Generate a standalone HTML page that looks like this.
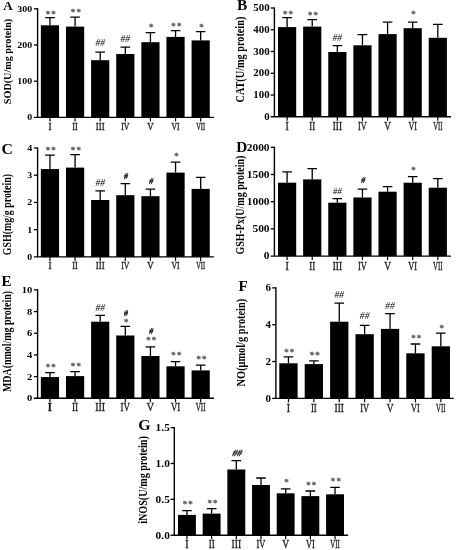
<!DOCTYPE html>
<html lang="en"><head><meta charset="utf-8"><title>Figure</title>
<style>
html,body{margin:0;padding:0;background:#fff}
body{width:456px;height:550px;overflow:hidden}
svg{display:block}
text{font-family:"Liberation Serif","Times New Roman",serif;fill:#000}
.tk{font-weight:bold;text-anchor:end}
.yl{font-weight:bold;text-anchor:middle}
.pl{font-weight:bold}
.xl{text-anchor:middle;fill:#1a1a1a;stroke:#1a1a1a;stroke-width:0.32px}
.st{font-size:9px;text-anchor:middle;fill:#606060;font-weight:bold;stroke:#606060;stroke-width:0.3px;letter-spacing:1.1px}
.hs1{text-anchor:middle;fill:#000;stroke:#000;stroke-width:0.25px}
.hs{text-anchor:middle;fill:#000;font-style:italic}
</style></head><body>
<svg width="456" height="550" viewBox="0 0 456 550">
<defs><filter id="soft" x="0" y="0" width="456" height="550" filterUnits="userSpaceOnUse"><feGaussianBlur stdDeviation="0.35"/></filter></defs>
<rect width="456" height="550" fill="#fff"/>
<g filter="url(#soft)">
<g class="panel">
<rect x="40.85" y="25.30" width="18.20" height="92.10" fill="#000"/>
<path d="M49.95 25.30V17.60M45.15 17.60H54.75" stroke="#000" stroke-width="1.3" fill="none"/>
<text class="st" x="51.35" y="16.50">**</text>
<path d="M49.95 117.40v4.0" stroke="#000" stroke-width="1.2"/>
<text class="xl" font-size="11" transform="translate(49.95 129.50) scale(0.850 1)">I</text>
<rect x="65.97" y="26.60" width="18.20" height="90.80" fill="#000"/>
<path d="M75.07 26.60V17.10M70.27 17.10H79.87" stroke="#000" stroke-width="1.3" fill="none"/>
<text class="st" x="76.47" y="15.40">**</text>
<path d="M75.07 117.40v4.0" stroke="#000" stroke-width="1.2"/>
<text class="xl" font-size="11" transform="translate(75.07 129.50) scale(0.750 1)">II</text>
<rect x="91.09" y="60.20" width="18.20" height="57.20" fill="#000"/>
<path d="M100.19 60.20V52.20M95.39 52.20H104.99" stroke="#000" stroke-width="1.3" fill="none"/>
<text class="hs" font-size="9.6" x="100.19" y="46.37">##</text>
<path d="M100.19 117.40v4.0" stroke="#000" stroke-width="1.2"/>
<text class="xl" font-size="11" transform="translate(100.19 129.50) scale(0.800 1)">III</text>
<rect x="116.21" y="54.00" width="18.20" height="63.40" fill="#000"/>
<path d="M125.31 54.00V47.20M120.51 47.20H130.11" stroke="#000" stroke-width="1.3" fill="none"/>
<text class="hs" font-size="9.6" x="125.31" y="42.47">##</text>
<path d="M125.31 117.40v4.0" stroke="#000" stroke-width="1.2"/>
<text class="xl" font-size="11" transform="translate(125.31 129.50) scale(0.710 1)">IV</text>
<rect x="141.33" y="42.20" width="18.20" height="75.20" fill="#000"/>
<path d="M150.43 42.20V32.60M145.63 32.60H155.23" stroke="#000" stroke-width="1.3" fill="none"/>
<text class="st" x="151.83" y="30.20">*</text>
<path d="M150.43 117.40v4.0" stroke="#000" stroke-width="1.2"/>
<text class="xl" font-size="11" transform="translate(150.43 129.50) scale(0.800 1)">V</text>
<rect x="166.45" y="36.90" width="18.20" height="80.50" fill="#000"/>
<path d="M175.55 36.90V30.60M170.75 30.60H180.35" stroke="#000" stroke-width="1.3" fill="none"/>
<text class="st" x="176.95" y="28.70">**</text>
<path d="M175.55 117.40v4.0" stroke="#000" stroke-width="1.2"/>
<text class="xl" font-size="11" transform="translate(175.55 129.50) scale(0.700 1)">VI</text>
<rect x="191.57" y="40.40" width="18.20" height="77.00" fill="#000"/>
<path d="M200.67 40.40V31.60M195.87 31.60H205.47" stroke="#000" stroke-width="1.3" fill="none"/>
<text class="st" x="202.07" y="30.20">*</text>
<path d="M200.67 117.40v4.0" stroke="#000" stroke-width="1.2"/>
<text class="xl" font-size="11" transform="translate(200.67 129.50) scale(0.580 1)">VII</text>
<path d="M37.60 8.20V117.40M33.90 117.40H213.90" stroke="#000" stroke-width="1.4" fill="none"/>
<text class="tk" font-size="8.5" transform="translate(32.20 120.29) scale(1.17 1)">0</text>
<path d="M33.90 81.20H37.60" stroke="#000" stroke-width="1.3"/>
<text class="tk" font-size="8.5" transform="translate(32.20 84.09) scale(1.17 1)">100</text>
<path d="M33.90 45.00H37.60" stroke="#000" stroke-width="1.3"/>
<text class="tk" font-size="8.5" transform="translate(32.20 47.89) scale(1.17 1)">200</text>
<path d="M33.90 8.80H37.60" stroke="#000" stroke-width="1.3"/>
<text class="tk" font-size="8.5" transform="translate(32.20 11.69) scale(1.17 1)">300</text>
<text class="yl" font-size="11.3" transform="translate(11.00 61.50) rotate(-90)" textLength="85.4" lengthAdjust="spacingAndGlyphs">SOD(U/mg protein)</text>
<text class="pl" transform="translate(3.30 9.90) scale(1.09 1)" font-size="12.0">A</text>
</g>
<g class="panel">
<rect x="278.00" y="27.10" width="18.20" height="89.70" fill="#000"/>
<path d="M287.10 27.10V17.60M282.30 17.60H291.90" stroke="#000" stroke-width="1.3" fill="none"/>
<text class="st" x="288.50" y="16.90">**</text>
<path d="M287.10 116.80v4.0" stroke="#000" stroke-width="1.2"/>
<text class="xl" font-size="11.6" transform="translate(287.10 129.90) scale(0.850 1)">I</text>
<rect x="303.12" y="26.60" width="18.20" height="90.20" fill="#000"/>
<path d="M312.22 26.60V19.60M307.42 19.60H317.02" stroke="#000" stroke-width="1.3" fill="none"/>
<text class="st" x="313.62" y="18.20">**</text>
<path d="M312.22 116.80v4.0" stroke="#000" stroke-width="1.2"/>
<text class="xl" font-size="11.6" transform="translate(312.22 129.90) scale(0.750 1)">II</text>
<rect x="328.24" y="52.00" width="18.20" height="64.80" fill="#000"/>
<path d="M337.34 52.00V45.70M332.54 45.70H342.14" stroke="#000" stroke-width="1.3" fill="none"/>
<text class="hs" font-size="9.6" x="337.34" y="40.97">##</text>
<path d="M337.34 116.80v4.0" stroke="#000" stroke-width="1.2"/>
<text class="xl" font-size="11.6" transform="translate(337.34 129.90) scale(0.800 1)">III</text>
<rect x="353.36" y="45.30" width="18.20" height="71.50" fill="#000"/>
<path d="M362.46 45.30V34.60M357.66 34.60H367.26" stroke="#000" stroke-width="1.3" fill="none"/>
<path d="M362.46 116.80v4.0" stroke="#000" stroke-width="1.2"/>
<text class="xl" font-size="11.6" transform="translate(362.46 129.90) scale(0.710 1)">IV</text>
<rect x="378.48" y="34.10" width="18.20" height="82.70" fill="#000"/>
<path d="M387.58 34.10V22.10M382.78 22.10H392.38" stroke="#000" stroke-width="1.3" fill="none"/>
<path d="M387.58 116.80v4.0" stroke="#000" stroke-width="1.2"/>
<text class="xl" font-size="11.6" transform="translate(387.58 129.90) scale(0.800 1)">V</text>
<rect x="403.60" y="28.20" width="18.20" height="88.60" fill="#000"/>
<path d="M412.70 28.20V22.10M407.90 22.10H417.50" stroke="#000" stroke-width="1.3" fill="none"/>
<text class="st" x="414.10" y="17.40">*</text>
<path d="M412.70 116.80v4.0" stroke="#000" stroke-width="1.2"/>
<text class="xl" font-size="11.6" transform="translate(412.70 129.90) scale(0.700 1)">VI</text>
<rect x="428.72" y="37.80" width="18.20" height="79.00" fill="#000"/>
<path d="M437.82 37.80V24.30M433.02 24.30H442.62" stroke="#000" stroke-width="1.3" fill="none"/>
<path d="M437.82 116.80v4.0" stroke="#000" stroke-width="1.2"/>
<text class="xl" font-size="11.6" transform="translate(437.82 129.90) scale(0.580 1)">VII</text>
<path d="M274.40 7.40V116.80M270.70 116.80H451.00" stroke="#000" stroke-width="1.4" fill="none"/>
<text class="tk" font-size="9.3" transform="translate(269.60 119.96) scale(1.17 1)">0</text>
<path d="M270.70 95.04H274.40" stroke="#000" stroke-width="1.3"/>
<text class="tk" font-size="9.3" transform="translate(269.60 98.20) scale(1.17 1)">100</text>
<path d="M270.70 73.28H274.40" stroke="#000" stroke-width="1.3"/>
<text class="tk" font-size="9.3" transform="translate(269.60 76.44) scale(1.17 1)">200</text>
<path d="M270.70 51.52H274.40" stroke="#000" stroke-width="1.3"/>
<text class="tk" font-size="9.3" transform="translate(269.60 54.68) scale(1.17 1)">300</text>
<path d="M270.70 29.76H274.40" stroke="#000" stroke-width="1.3"/>
<text class="tk" font-size="9.3" transform="translate(269.60 32.92) scale(1.17 1)">400</text>
<path d="M270.70 8.00H274.40" stroke="#000" stroke-width="1.3"/>
<text class="tk" font-size="9.3" transform="translate(269.60 11.16) scale(1.17 1)">500</text>
<text class="yl" font-size="12.2" transform="translate(243.85 59.60) rotate(-90)" textLength="85.8" lengthAdjust="spacingAndGlyphs">CAT(U/mg protein)</text>
<text class="pl" transform="translate(237.10 10.30) scale(1.09 1)" font-size="14.2">B</text>
</g>
<g class="panel">
<rect x="40.85" y="169.10" width="18.20" height="87.80" fill="#000"/>
<path d="M49.95 169.10V155.10M45.15 155.10H54.75" stroke="#000" stroke-width="1.3" fill="none"/>
<text class="st" x="51.35" y="153.20">**</text>
<path d="M49.95 256.90v4.0" stroke="#000" stroke-width="1.2"/>
<text class="xl" font-size="11" transform="translate(49.95 268.80) scale(0.850 1)">I</text>
<rect x="65.97" y="167.60" width="18.20" height="89.30" fill="#000"/>
<path d="M75.07 167.60V154.60M70.27 154.60H79.87" stroke="#000" stroke-width="1.3" fill="none"/>
<text class="st" x="76.47" y="153.20">**</text>
<path d="M75.07 256.90v4.0" stroke="#000" stroke-width="1.2"/>
<text class="xl" font-size="11" transform="translate(75.07 268.80) scale(0.750 1)">II</text>
<rect x="91.09" y="200.00" width="18.20" height="56.90" fill="#000"/>
<path d="M100.19 200.00V190.90M95.39 190.90H104.99" stroke="#000" stroke-width="1.3" fill="none"/>
<text class="hs" font-size="9.6" x="100.19" y="186.17">##</text>
<path d="M100.19 256.90v4.0" stroke="#000" stroke-width="1.2"/>
<text class="xl" font-size="11" transform="translate(100.19 268.80) scale(0.800 1)">III</text>
<rect x="116.21" y="195.20" width="18.20" height="61.70" fill="#000"/>
<path d="M125.31 195.20V183.70M120.51 183.70H130.11" stroke="#000" stroke-width="1.3" fill="none"/>
<text class="hs1" font-size="8.8" transform="translate(125.61 179.10) skewX(-10) scale(0.92 1)">#</text>
<path d="M125.31 256.90v4.0" stroke="#000" stroke-width="1.2"/>
<text class="xl" font-size="11" transform="translate(125.31 268.80) scale(0.710 1)">IV</text>
<rect x="141.33" y="196.20" width="18.20" height="60.70" fill="#000"/>
<path d="M150.43 196.20V189.20M145.63 189.20H155.23" stroke="#000" stroke-width="1.3" fill="none"/>
<text class="hs1" font-size="8.8" transform="translate(150.73 184.00) skewX(-10) scale(0.92 1)">#</text>
<path d="M150.43 256.90v4.0" stroke="#000" stroke-width="1.2"/>
<text class="xl" font-size="11" transform="translate(150.43 268.80) scale(0.800 1)">V</text>
<rect x="166.45" y="172.60" width="18.20" height="84.30" fill="#000"/>
<path d="M175.55 172.60V162.10M170.75 162.10H180.35" stroke="#000" stroke-width="1.3" fill="none"/>
<text class="st" x="176.95" y="159.40">*</text>
<path d="M175.55 256.90v4.0" stroke="#000" stroke-width="1.2"/>
<text class="xl" font-size="11" transform="translate(175.55 268.80) scale(0.700 1)">VI</text>
<rect x="191.57" y="188.90" width="18.20" height="68.00" fill="#000"/>
<path d="M200.67 188.90V177.40M195.87 177.40H205.47" stroke="#000" stroke-width="1.3" fill="none"/>
<path d="M200.67 256.90v4.0" stroke="#000" stroke-width="1.2"/>
<text class="xl" font-size="11" transform="translate(200.67 268.80) scale(0.580 1)">VII</text>
<path d="M37.60 147.40V256.90M33.90 256.90H213.90" stroke="#000" stroke-width="1.4" fill="none"/>
<text class="tk" font-size="8.5" transform="translate(32.20 259.79) scale(1.17 1)">0</text>
<path d="M33.90 229.67H37.60" stroke="#000" stroke-width="1.3"/>
<text class="tk" font-size="8.5" transform="translate(32.20 232.56) scale(1.17 1)">1</text>
<path d="M33.90 202.45H37.60" stroke="#000" stroke-width="1.3"/>
<text class="tk" font-size="8.5" transform="translate(32.20 205.34) scale(1.17 1)">2</text>
<path d="M33.90 175.22H37.60" stroke="#000" stroke-width="1.3"/>
<text class="tk" font-size="8.5" transform="translate(32.20 178.11) scale(1.17 1)">3</text>
<path d="M33.90 148.00H37.60" stroke="#000" stroke-width="1.3"/>
<text class="tk" font-size="8.5" transform="translate(32.20 150.89) scale(1.17 1)">4</text>
<text class="yl" font-size="11.5" transform="translate(10.60 214.60) rotate(-90)" textLength="81.2" lengthAdjust="spacingAndGlyphs">GSH(mg/g protein)</text>
<text class="pl" transform="translate(1.50 154.10) scale(1.09 1)" font-size="14.4">C</text>
</g>
<g class="panel">
<rect x="278.00" y="182.70" width="18.20" height="73.40" fill="#000"/>
<path d="M287.10 182.70V171.90M282.30 171.90H291.90" stroke="#000" stroke-width="1.3" fill="none"/>
<path d="M287.10 256.10v4.0" stroke="#000" stroke-width="1.2"/>
<text class="xl" font-size="11.8" transform="translate(287.10 269.50) scale(0.850 1)">I</text>
<rect x="303.12" y="179.40" width="18.20" height="76.70" fill="#000"/>
<path d="M312.22 179.40V168.60M307.42 168.60H317.02" stroke="#000" stroke-width="1.3" fill="none"/>
<path d="M312.22 256.10v4.0" stroke="#000" stroke-width="1.2"/>
<text class="xl" font-size="11.8" transform="translate(312.22 269.50) scale(0.750 1)">II</text>
<rect x="328.24" y="202.70" width="18.20" height="53.40" fill="#000"/>
<path d="M337.34 202.70V198.70M332.54 198.70H342.14" stroke="#000" stroke-width="1.3" fill="none"/>
<text class="hs" font-size="9.0" x="337.34" y="193.87">##</text>
<path d="M337.34 256.10v4.0" stroke="#000" stroke-width="1.2"/>
<text class="xl" font-size="11.8" transform="translate(337.34 269.50) scale(0.800 1)">III</text>
<rect x="353.36" y="197.50" width="18.20" height="58.60" fill="#000"/>
<path d="M362.46 197.50V189.20M357.66 189.20H367.26" stroke="#000" stroke-width="1.3" fill="none"/>
<text class="hs1" font-size="8.8" transform="translate(362.76 182.80) skewX(-10) scale(0.92 1)">#</text>
<path d="M362.46 256.10v4.0" stroke="#000" stroke-width="1.2"/>
<text class="xl" font-size="11.8" transform="translate(362.46 269.50) scale(0.710 1)">IV</text>
<rect x="378.48" y="191.70" width="18.20" height="64.40" fill="#000"/>
<path d="M387.58 191.70V186.70M382.78 186.70H392.38" stroke="#000" stroke-width="1.3" fill="none"/>
<path d="M387.58 256.10v4.0" stroke="#000" stroke-width="1.2"/>
<text class="xl" font-size="11.8" transform="translate(387.58 269.50) scale(0.800 1)">V</text>
<rect x="403.60" y="182.70" width="18.20" height="73.40" fill="#000"/>
<path d="M412.70 182.70V176.60M407.90 176.60H417.50" stroke="#000" stroke-width="1.3" fill="none"/>
<text class="st" x="414.10" y="172.50">*</text>
<path d="M412.70 256.10v4.0" stroke="#000" stroke-width="1.2"/>
<text class="xl" font-size="11.8" transform="translate(412.70 269.50) scale(0.700 1)">VI</text>
<rect x="428.72" y="187.70" width="18.20" height="68.40" fill="#000"/>
<path d="M437.82 187.70V178.70M433.02 178.70H442.62" stroke="#000" stroke-width="1.3" fill="none"/>
<path d="M437.82 256.10v4.0" stroke="#000" stroke-width="1.2"/>
<text class="xl" font-size="11.8" transform="translate(437.82 269.50) scale(0.580 1)">VII</text>
<path d="M274.40 146.70V256.10M270.70 256.10H451.00" stroke="#000" stroke-width="1.4" fill="none"/>
<text class="tk" font-size="9.8" transform="translate(269.60 259.43) scale(1.17 1)">0</text>
<path d="M270.70 228.90H274.40" stroke="#000" stroke-width="1.3"/>
<text class="tk" font-size="9.8" transform="translate(269.60 232.23) scale(1.17 1)">500</text>
<path d="M270.70 201.70H274.40" stroke="#000" stroke-width="1.3"/>
<text class="tk" font-size="9.8" transform="translate(269.60 205.03) scale(1.17 1)">1000</text>
<path d="M270.70 174.50H274.40" stroke="#000" stroke-width="1.3"/>
<text class="tk" font-size="9.8" transform="translate(269.60 177.83) scale(1.17 1)">1500</text>
<path d="M270.70 147.30H274.40" stroke="#000" stroke-width="1.3"/>
<text class="tk" font-size="9.8" transform="translate(269.60 150.63) scale(1.17 1)">2000</text>
<text class="yl" font-size="12.5" transform="translate(244.20 205.10) rotate(-90)" textLength="99.0" lengthAdjust="spacingAndGlyphs">GSH-Px(U/mg protein)</text>
<text class="pl" transform="translate(236.30 152.20) scale(1.09 1)" font-size="14.0">D</text>
</g>
<g class="panel">
<rect x="40.85" y="377.10" width="18.20" height="21.20" fill="#000"/>
<path d="M49.95 377.10V372.60M45.15 372.60H54.75" stroke="#000" stroke-width="1.3" fill="none"/>
<text class="st" x="51.35" y="370.20">**</text>
<path d="M49.95 398.30v4.0" stroke="#000" stroke-width="1.2"/>
<text class="xl" font-size="11.6" font-weight="bold" transform="translate(49.95 411.30) scale(0.918 1)">I</text>
<rect x="65.97" y="376.10" width="18.20" height="22.20" fill="#000"/>
<path d="M75.07 376.10V371.60M70.27 371.60H79.87" stroke="#000" stroke-width="1.3" fill="none"/>
<text class="st" x="76.47" y="369.40">**</text>
<path d="M75.07 398.30v4.0" stroke="#000" stroke-width="1.2"/>
<text class="xl" font-size="11.6" transform="translate(75.07 411.30) scale(0.810 1)">II</text>
<rect x="91.09" y="321.70" width="18.20" height="76.60" fill="#000"/>
<path d="M100.19 321.70V315.40M95.39 315.40H104.99" stroke="#000" stroke-width="1.3" fill="none"/>
<text class="hs" font-size="9.6" x="100.19" y="310.97">##</text>
<path d="M100.19 398.30v4.0" stroke="#000" stroke-width="1.2"/>
<text class="xl" font-size="11.6" transform="translate(100.19 411.30) scale(0.864 1)">III</text>
<rect x="116.21" y="335.50" width="18.20" height="62.80" fill="#000"/>
<path d="M125.31 335.50V326.40M120.51 326.40H130.11" stroke="#000" stroke-width="1.3" fill="none"/>
<text class="st" x="126.71" y="325.10">*</text>
<text class="hs1" font-size="8.8" transform="translate(125.61 315.70) skewX(-10) scale(0.92 1)">#</text>
<path d="M125.31 398.30v4.0" stroke="#000" stroke-width="1.2"/>
<text class="xl" font-size="11.6" transform="translate(125.31 411.30) scale(0.767 1)">IV</text>
<rect x="141.33" y="356.00" width="18.20" height="42.30" fill="#000"/>
<path d="M150.43 356.00V346.80M145.63 346.80H155.23" stroke="#000" stroke-width="1.3" fill="none"/>
<text class="st" x="151.83" y="342.60">**</text>
<text class="hs1" font-size="8.8" transform="translate(150.73 334.30) skewX(-10) scale(0.92 1)">#</text>
<path d="M150.43 398.30v4.0" stroke="#000" stroke-width="1.2"/>
<text class="xl" font-size="11.6" transform="translate(150.43 411.30) scale(0.864 1)">V</text>
<rect x="166.45" y="366.30" width="18.20" height="32.00" fill="#000"/>
<path d="M175.55 366.30V361.60M170.75 361.60H180.35" stroke="#000" stroke-width="1.3" fill="none"/>
<text class="st" x="176.95" y="358.20">**</text>
<path d="M175.55 398.30v4.0" stroke="#000" stroke-width="1.2"/>
<text class="xl" font-size="11.6" transform="translate(175.55 411.30) scale(0.756 1)">VI</text>
<rect x="191.57" y="370.40" width="18.20" height="27.90" fill="#000"/>
<path d="M200.67 370.40V365.10M195.87 365.10H205.47" stroke="#000" stroke-width="1.3" fill="none"/>
<text class="st" x="202.07" y="362.40">**</text>
<path d="M200.67 398.30v4.0" stroke="#000" stroke-width="1.2"/>
<text class="xl" font-size="11.6" transform="translate(200.67 411.30) scale(0.626 1)">VII</text>
<path d="M37.60 289.30V398.30M33.90 398.30H213.90" stroke="#000" stroke-width="1.4" fill="none"/>
<text class="tk" font-size="9.0" transform="translate(32.20 401.36) scale(1.17 1)">0</text>
<path d="M33.90 376.62H37.60" stroke="#000" stroke-width="1.3"/>
<text class="tk" font-size="9.0" transform="translate(32.20 379.68) scale(1.17 1)">2</text>
<path d="M33.90 354.94H37.60" stroke="#000" stroke-width="1.3"/>
<text class="tk" font-size="9.0" transform="translate(32.20 358.00) scale(1.17 1)">4</text>
<path d="M33.90 333.26H37.60" stroke="#000" stroke-width="1.3"/>
<text class="tk" font-size="9.0" transform="translate(32.20 336.32) scale(1.17 1)">6</text>
<path d="M33.90 311.58H37.60" stroke="#000" stroke-width="1.3"/>
<text class="tk" font-size="9.0" transform="translate(32.20 314.64) scale(1.17 1)">8</text>
<path d="M33.90 289.90H37.60" stroke="#000" stroke-width="1.3"/>
<text class="tk" font-size="9.0" transform="translate(32.20 292.96) scale(1.17 1)">10</text>
<text class="yl" font-size="11.7" transform="translate(10.60 341.50) rotate(-90)" textLength="101.2" lengthAdjust="spacingAndGlyphs">MDA(nmol/mg protein)</text>
<text class="pl" transform="translate(1.60 285.90) scale(1.09 1)" font-size="13.8">E</text>
</g>
<g class="panel">
<rect x="279.30" y="363.30" width="18.30" height="35.05" fill="#000"/>
<path d="M288.45 363.30V356.80M283.65 356.80H293.25" stroke="#000" stroke-width="1.3" fill="none"/>
<text class="st" x="289.85" y="354.90">**</text>
<path d="M288.45 398.35v4.0" stroke="#000" stroke-width="1.2"/>
<text class="xl" font-size="11.8" transform="translate(288.45 411.60) scale(0.850 1)">I</text>
<rect x="304.70" y="364.10" width="18.30" height="34.25" fill="#000"/>
<path d="M313.85 364.10V360.80M309.05 360.80H318.65" stroke="#000" stroke-width="1.3" fill="none"/>
<text class="st" x="315.25" y="358.20">**</text>
<path d="M313.85 398.35v4.0" stroke="#000" stroke-width="1.2"/>
<text class="xl" font-size="11.8" transform="translate(313.85 411.60) scale(0.750 1)">II</text>
<rect x="330.10" y="321.70" width="18.30" height="76.65" fill="#000"/>
<path d="M339.25 321.70V303.10M334.45 303.10H344.05" stroke="#000" stroke-width="1.3" fill="none"/>
<text class="hs" font-size="9.6" x="339.25" y="297.87">##</text>
<path d="M339.25 398.35v4.0" stroke="#000" stroke-width="1.2"/>
<text class="xl" font-size="11.8" transform="translate(339.25 411.60) scale(0.800 1)">III</text>
<rect x="355.50" y="334.20" width="18.30" height="64.15" fill="#000"/>
<path d="M364.65 334.20V325.40M359.85 325.40H369.45" stroke="#000" stroke-width="1.3" fill="none"/>
<text class="hs" font-size="9.6" x="364.65" y="319.07">##</text>
<path d="M364.65 398.35v4.0" stroke="#000" stroke-width="1.2"/>
<text class="xl" font-size="11.8" transform="translate(364.65 411.60) scale(0.710 1)">IV</text>
<rect x="380.90" y="328.90" width="18.30" height="69.45" fill="#000"/>
<path d="M390.05 328.90V313.60M385.25 313.60H394.85" stroke="#000" stroke-width="1.3" fill="none"/>
<text class="hs" font-size="9.6" x="390.05" y="309.47">##</text>
<path d="M390.05 398.35v4.0" stroke="#000" stroke-width="1.2"/>
<text class="xl" font-size="11.8" transform="translate(390.05 411.60) scale(0.800 1)">V</text>
<rect x="406.30" y="353.30" width="18.30" height="45.05" fill="#000"/>
<path d="M415.45 353.30V344.00M410.65 344.00H420.25" stroke="#000" stroke-width="1.3" fill="none"/>
<text class="st" x="416.85" y="341.40">**</text>
<path d="M415.45 398.35v4.0" stroke="#000" stroke-width="1.2"/>
<text class="xl" font-size="11.8" transform="translate(415.45 411.60) scale(0.700 1)">VI</text>
<rect x="431.70" y="346.30" width="18.30" height="52.05" fill="#000"/>
<path d="M440.85 346.30V333.20M436.05 333.20H445.65" stroke="#000" stroke-width="1.3" fill="none"/>
<text class="st" x="442.25" y="330.60">*</text>
<path d="M440.85 398.35v4.0" stroke="#000" stroke-width="1.2"/>
<text class="xl" font-size="11.8" transform="translate(440.85 411.60) scale(0.580 1)">VII</text>
<path d="M275.90 287.30V398.35M272.20 398.35H453.70" stroke="#000" stroke-width="1.4" fill="none"/>
<text class="tk" font-size="9.4" transform="translate(271.10 401.55) scale(1.17 1)">0</text>
<path d="M272.20 361.53H275.90" stroke="#000" stroke-width="1.3"/>
<text class="tk" font-size="9.4" transform="translate(271.10 364.73) scale(1.17 1)">2</text>
<path d="M272.20 324.72H275.90" stroke="#000" stroke-width="1.3"/>
<text class="tk" font-size="9.4" transform="translate(271.10 327.91) scale(1.17 1)">4</text>
<path d="M272.20 287.90H275.90" stroke="#000" stroke-width="1.3"/>
<text class="tk" font-size="9.4" transform="translate(271.10 291.10) scale(1.17 1)">6</text>
<text class="yl" font-size="12.5" transform="translate(245.05 342.60) rotate(-90)" textLength="87.6" lengthAdjust="spacingAndGlyphs">NO(μmol/g protein)</text>
<text class="pl" transform="translate(238.60 291.40) scale(1.09 1)" font-size="14.0">F</text>
</g>
<g class="panel">
<rect x="178.00" y="514.90" width="17.90" height="20.30" fill="#000"/>
<path d="M186.95 514.90V510.60M182.15 510.60H191.75" stroke="#000" stroke-width="1.3" fill="none"/>
<text class="st" x="188.35" y="507.20">**</text>
<path d="M186.95 535.20v4.0" stroke="#000" stroke-width="1.2"/>
<text class="xl" font-size="12" transform="translate(186.95 548.20) scale(0.850 1)">I</text>
<rect x="202.68" y="513.60" width="17.90" height="21.60" fill="#000"/>
<path d="M211.63 513.60V508.60M206.83 508.60H216.43" stroke="#000" stroke-width="1.3" fill="none"/>
<text class="st" x="213.03" y="506.20">**</text>
<path d="M211.63 535.20v4.0" stroke="#000" stroke-width="1.2"/>
<text class="xl" font-size="12" transform="translate(211.63 548.20) scale(0.750 1)">II</text>
<rect x="227.36" y="469.50" width="17.90" height="65.70" fill="#000"/>
<path d="M236.31 469.50V460.60M231.51 460.60H241.11" stroke="#000" stroke-width="1.3" fill="none"/>
<text class="hs1" font-size="9.2" transform="translate(236.51 455.64) skewX(-16) scale(1.05 1)">##</text>
<path d="M236.31 535.20v4.0" stroke="#000" stroke-width="1.2"/>
<text class="xl" font-size="12" transform="translate(236.31 548.20) scale(0.800 1)">III</text>
<rect x="252.04" y="485.00" width="17.90" height="50.20" fill="#000"/>
<path d="M260.99 485.00V478.00M256.19 478.00H265.79" stroke="#000" stroke-width="1.3" fill="none"/>
<path d="M260.99 535.20v4.0" stroke="#000" stroke-width="1.2"/>
<text class="xl" font-size="12" transform="translate(260.99 548.20) scale(0.710 1)">IV</text>
<rect x="276.72" y="493.30" width="17.90" height="41.90" fill="#000"/>
<path d="M285.67 493.30V488.80M280.87 488.80H290.47" stroke="#000" stroke-width="1.3" fill="none"/>
<text class="st" x="287.07" y="485.40">*</text>
<path d="M285.67 535.20v4.0" stroke="#000" stroke-width="1.2"/>
<text class="xl" font-size="12" transform="translate(285.67 548.20) scale(0.800 1)">V</text>
<rect x="301.40" y="496.10" width="17.90" height="39.10" fill="#000"/>
<path d="M310.35 496.10V491.00M305.55 491.00H315.15" stroke="#000" stroke-width="1.3" fill="none"/>
<text class="st" x="311.75" y="487.90">**</text>
<path d="M310.35 535.20v4.0" stroke="#000" stroke-width="1.2"/>
<text class="xl" font-size="12" transform="translate(310.35 548.20) scale(0.700 1)">VI</text>
<rect x="326.08" y="494.30" width="17.90" height="40.90" fill="#000"/>
<path d="M335.03 494.30V487.30M330.23 487.30H339.83" stroke="#000" stroke-width="1.3" fill="none"/>
<text class="st" x="336.43" y="483.70">**</text>
<path d="M335.03 535.20v4.0" stroke="#000" stroke-width="1.2"/>
<text class="xl" font-size="12" transform="translate(335.03 548.20) scale(0.580 1)">VII</text>
<path d="M174.30 427.00V535.20M170.60 535.20H348.20" stroke="#000" stroke-width="1.4" fill="none"/>
<text class="tk" font-size="9.7" transform="translate(169.80 538.50) scale(1.17 1)">0.0</text>
<path d="M170.60 499.33H174.30" stroke="#000" stroke-width="1.3"/>
<text class="tk" font-size="9.7" transform="translate(169.80 502.63) scale(1.17 1)">0.5</text>
<path d="M170.60 463.47H174.30" stroke="#000" stroke-width="1.3"/>
<text class="tk" font-size="9.7" transform="translate(169.80 466.76) scale(1.17 1)">1.0</text>
<path d="M170.60 427.60H174.30" stroke="#000" stroke-width="1.3"/>
<text class="tk" font-size="9.7" transform="translate(169.80 430.90) scale(1.17 1)">1.5</text>
<text class="yl" font-size="11.7" transform="translate(146.80 480.00) rotate(-90)" textLength="87.5" lengthAdjust="spacingAndGlyphs">iNOS(U/mg protein)</text>
<text class="pl" transform="translate(138.30 430.00) scale(1.09 1)" font-size="14.6">G</text>
</g>
</g>
</svg>
</body></html>
